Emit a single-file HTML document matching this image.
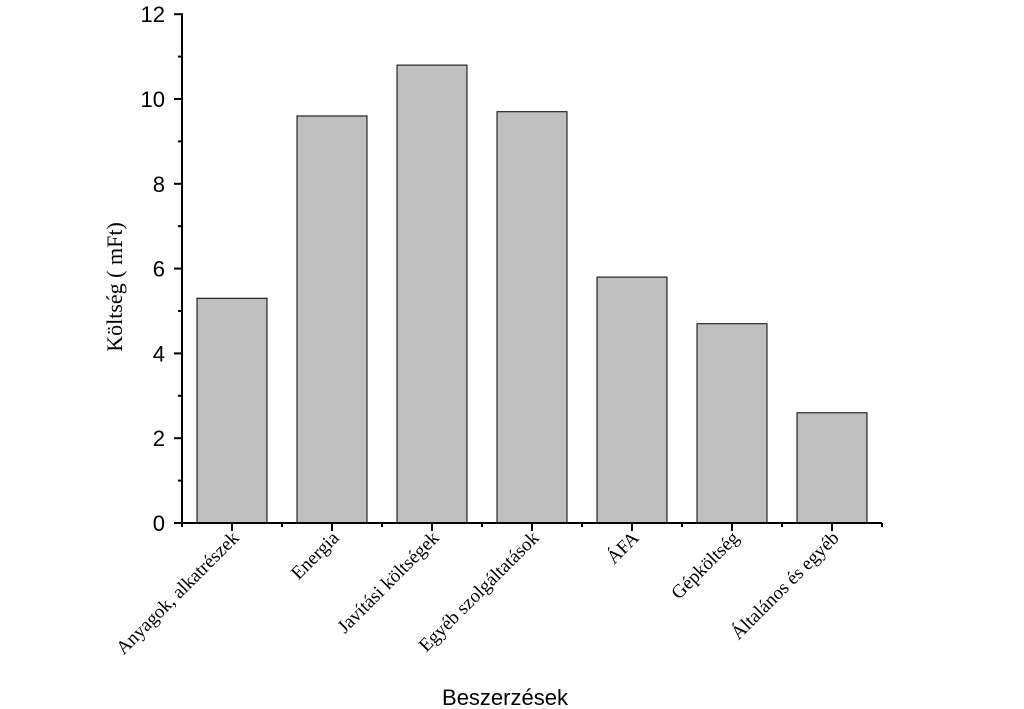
<!DOCTYPE html>
<html><head><meta charset="utf-8"><style>body{margin:0;background:#fff}svg{display:block}</style></head>
<body>
<svg id="chart" width="1024" height="709" xmlns="http://www.w3.org/2000/svg"></svg>
<script>
const categories=["Anyagok, alkatrészek","Energia","Javítási költségek","Egyéb szolgáltatások","ÁFA","Gépköltség","Általános és egyéb"];
const values=[5.3,9.6,10.8,9.7,5.8,4.7,2.6];
const yTicks=[0,2,4,6,8,10,12];
const yMinor=[1,3,5,7,9,11];
const X0=182,BAND=100,Y0=523,YPX=42.4;
const xC=i=>X0+BAND*(i+0.5);
const y=v=>Y0-v*YPX;
const svg=document.getElementById('chart');
const NS='http://www.w3.org/2000/svg';
function mk(t,a,txt){const e=document.createElementNS(NS,t);for(const k in a)e.setAttribute(k,a[k]);if(txt!=null)e.textContent=txt;svg.appendChild(e);return e;}
values.forEach((v,i)=>{
const r=mk('rect',{x:xC(i)-35,y:y(v),width:70,height:Y0-y(v),fill:'#c0c0c0',stroke:'#000','stroke-width':1});


});
let a=mk('line',{x1:X0,y1:y(12)-1,x2:X0,y2:Y0+1,stroke:'#000','stroke-width':2});

a=mk('line',{x1:X0-1,y1:Y0,x2:X0+BAND*7,y2:Y0,stroke:'#000','stroke-width':2});

yTicks.forEach(t=>{
mk('line',{x1:X0-8,y1:y(t),x2:X0,y2:y(t),stroke:'#000','stroke-width':2});
const l=mk('text',{x:165,y:y(t)+8,'text-anchor':'end','font-family':'Liberation Sans, sans-serif','font-size':22},t);

});
yMinor.forEach(t=>mk('line',{x1:X0-4,y1:y(t),x2:X0,y2:y(t),stroke:'#000','stroke-width':2}));
for(let i=0;i<=7;i++){mk('line',{x1:X0+BAND*i,y1:Y0,x2:X0+BAND*i,y2:Y0+4,stroke:'#000','stroke-width':2});}
categories.forEach((c,i)=>{
mk('line',{x1:xC(i),y1:Y0,x2:xC(i),y2:Y0+8,stroke:'#000','stroke-width':2});
const tx=xC(i)+8,ty=Y0+16;
const l=mk('text',{x:tx,y:ty,'text-anchor':'end','font-family':'Liberation Serif, serif','font-size':19,transform:`rotate(-45 ${tx} ${ty})`},c);

});
let t=mk('text',{x:0,y:0,'text-anchor':'middle','font-family':'Liberation Serif, serif','font-size':22,transform:'translate(122 287) rotate(-90)'},'Költség ( mFt)');

t=mk('text',{x:505,y:705,'text-anchor':'middle','font-family':'Liberation Sans, sans-serif','font-size':22},'Beszerzések');

</script>
</body></html>
